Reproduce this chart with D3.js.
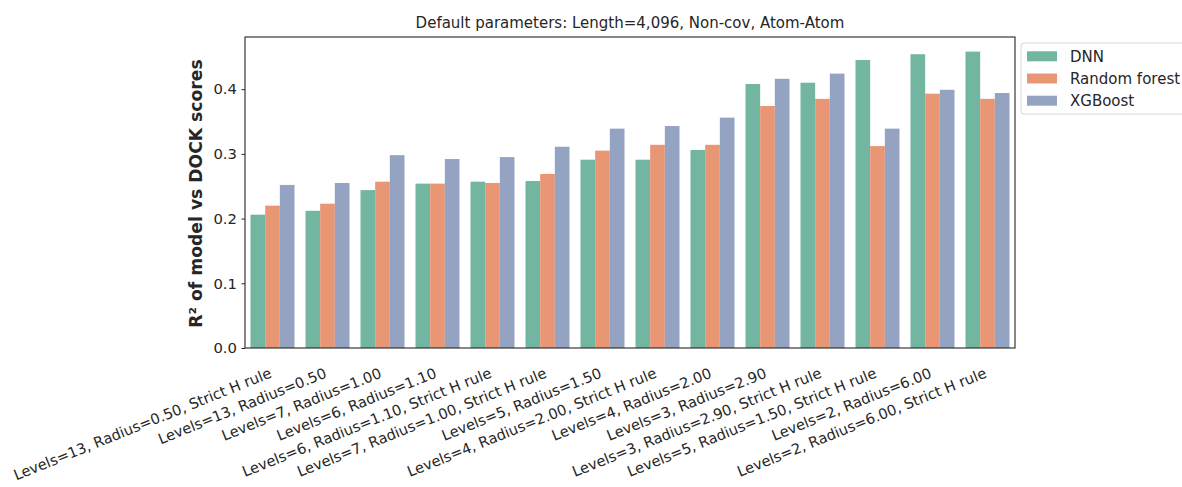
<!DOCTYPE html>
<html>
<head>
<meta charset="utf-8">
<script src="https://cdn.jsdelivr.net/npm/d3@7/dist/d3.min.js"></script>
<style>
  body { margin: 0; background: #fff; }
  svg { display: block; font-family: "DejaVu Sans", sans-serif; }
</style>
</head>
<body>
<svg id="chart" width="1182" height="487"></svg>
<script>
const categories = [
  "Levels=13, Radius=0.50, Strict H rule",
  "Levels=13, Radius=0.50",
  "Levels=7, Radius=1.00",
  "Levels=6, Radius=1.10",
  "Levels=6, Radius=1.10, Strict H rule",
  "Levels=7, Radius=1.00, Strict H rule",
  "Levels=5, Radius=1.50",
  "Levels=4, Radius=2.00, Strict H rule",
  "Levels=4, Radius=2.00",
  "Levels=3, Radius=2.90",
  "Levels=3, Radius=2.90, Strict H rule",
  "Levels=5, Radius=1.50, Strict H rule",
  "Levels=2, Radius=6.00",
  "Levels=2, Radius=6.00, Strict H rule"
];
const seriesNames = ["DNN", "Random forest", "XGBoost"];
const dnn = [0.206, 0.212, 0.244, 0.254, 0.257, 0.258, 0.291, 0.291, 0.306, 0.408, 0.410, 0.445, 0.454, 0.458];
const randomForest = [0.220, 0.223, 0.257, 0.254, 0.255, 0.269, 0.305, 0.314, 0.314, 0.374, 0.385, 0.312, 0.393, 0.385];
const xgboost = [0.252, 0.255, 0.298, 0.292, 0.295, 0.311, 0.339, 0.343, 0.356, 0.416, 0.424, 0.339, 0.399, 0.394];
const yTicks = [0.0, 0.1, 0.2, 0.3, 0.4];
const colors = ["#72b6a1", "#e99675", "#95a3c3"];
const titleText = "Default parameters: Length=4,096, Non-cov, Atom-Atom";
const yLabel = "R\u00b2 of model vs DOCK scores";

const seriesValues = [dnn, randomForest, xgboost];
const rows = categories.map((c, i) => ({cat: c, vals: seriesValues.map(s => s[i])}));

const svg = d3.select("#chart");
const m = {left: 245, right: 1015, top: 37, bottom: 348};

const x = d3.scaleBand().domain(categories).range([m.left, m.right]).paddingInner(0.2).paddingOuter(0.1);
const x1 = d3.scaleBand().domain(seriesNames).range([0, x.bandwidth()]).padding(0);
const y = d3.scaleLinear().domain([0, 0.4806]).range([m.bottom, m.top]);

// bars
const g = svg.append("g");
rows.forEach(r => {
  const gg = g.append("g").attr("transform", `translate(${x(r.cat)},0)`);
  gg.selectAll("rect").data(r.vals).join("rect")
    .attr("x", (d, i) => x1(seriesNames[i]))
    .attr("width", x1.bandwidth())
    .attr("y", d => y(d))
    .attr("height", d => y(0) - y(d))
    .attr("fill", (d, i) => colors[i]);
});

// y axis
const yAxis = d3.axisLeft(y).tickValues(yTicks).tickFormat(d3.format(".1f")).tickSize(3.5).tickPadding(4.5);
const ya = svg.append("g").attr("transform", `translate(${m.left},0)`).call(yAxis);
ya.select(".domain").remove();
ya.selectAll("line").attr("stroke", "#262626");
ya.selectAll("text").attr("font-size", 14.8).attr("fill", "#262626").attr("font-family", "DejaVu Sans");

// x labels
const xa = svg.append("g");
xa.selectAll("text").data(categories).join("text")
  .attr("transform", d => `translate(${x(d) + x.bandwidth() / 2},${m.bottom + 29}) rotate(-22)`)
  .attr("text-anchor", "end")
  .attr("font-size", 14.6)
  .attr("fill", "#262626")
  .text(d => d);

// frame
svg.append("rect")
  .attr("x", m.left).attr("y", m.top)
  .attr("width", m.right - m.left).attr("height", m.bottom - m.top)
  .attr("fill", "none").attr("stroke", "#262626").attr("stroke-width", 1.1);

// title
svg.append("text")
  .attr("x", (m.left + m.right) / 2).attr("y", 28)
  .attr("text-anchor", "middle").attr("font-size", 15)
  .attr("fill", "#262626").text(titleText);

// y label
svg.append("text")
  .attr("transform", `translate(${202},${(m.top + m.bottom) / 2 + 1}) rotate(-90)`)
  .attr("text-anchor", "middle").attr("font-size", 17.2).attr("font-weight", "bold")
  .attr("fill", "#262626").text(yLabel);

// legend
const lg = svg.append("g").attr("transform", "translate(1021,43)");
lg.append("rect").attr("x", 0).attr("y", 0).attr("width", 175).attr("height", 71)
  .attr("rx", 3).attr("fill", "#fff").attr("stroke", "#d6d6d6");
seriesNames.forEach((s, i) => {
  lg.append("rect").attr("x", 6).attr("y", 8.3 + i * 22.2).attr("width", 30).attr("height", 10).attr("fill", colors[i]);
  lg.append("text").attr("x", 49).attr("y", 18.5 + i * 22.2).attr("font-size", 15).attr("fill", "#262626").text(s);
});
</script>
</body>
</html>
